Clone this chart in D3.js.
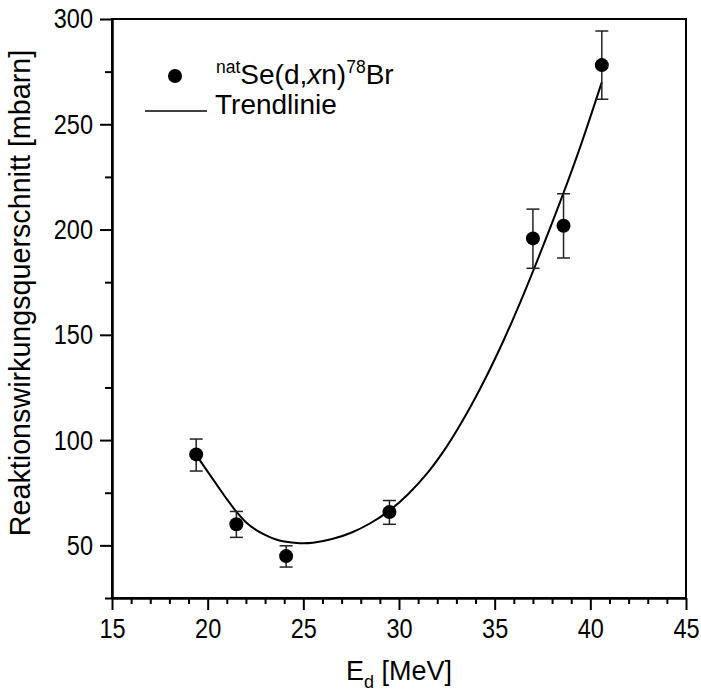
<!DOCTYPE html>
<html><head><meta charset="utf-8">
<script src="https://cdn.jsdelivr.net/npm/d3@7"></script>
<style>body{margin:0;background:#fff}svg{display:block}</style>
</head><body>
<svg id="c" width="701" height="693"></svg>
<script>
// ---- data ----
const energy       = [19.4, 21.5, 24.1, 29.5, 37.0, 38.6, 40.6];
const crossSection = [93.2, 60.0, 44.9, 65.8, 195.8, 201.8, 278.1];
const errLow       = [7.9, 6.2, 5.2, 5.8, 14.2, 15.3, 16.2];
const errHigh      = [7.3, 6.1, 4.9, 5.5, 13.9, 15.2, 16.2];
const trendX = [19.4, 20.0, 20.5, 21.0, 21.5, 22.0, 22.5, 23.0, 23.5, 24.0, 24.8, 25.5, 26.5, 27.5, 28.5, 29.5, 30.5, 31.5, 32.5, 33.5, 34.5, 35.5, 36.5, 37.5, 38.5, 39.5, 40.6];
const trendY = [93.0, 85.0, 78.5, 72.0, 66.0, 61.0, 57.5, 55.0, 53.0, 51.8, 51.0, 51.2, 53.0, 56.0, 60.5, 66.5, 74.5, 84.5, 97.0, 112.0, 129.0, 148.0, 169.0, 191.5, 215.0, 240.0, 270.0];
const xTicks = [15, 20, 25, 30, 35, 40, 45];
const xMinor = [16,17,18,19,21,22,23,24,26,27,28,29,31,32,33,34,36,37,38,39,41,42,43,44];
const yTicks = [50, 100, 150, 200, 250, 300];
const yMinor = [25, 75, 125, 175, 225, 275];
const xTitle = "E";
const xTitleSub = "d";
const xTitleRest = " [MeV]";
const yTitle = "Reaktionswirkungsquerschnitt [mbarn]";
const legendSeries = ["Se(d,", "x", "n)", "78", "Br"];
const legendTrend = "Trendlinie";

// ---- chart ----
const svg = d3.select("#c");
const font = "'Liberation Sans', Arial, sans-serif";
const L = 112, R = 686, T = 19, B = 598;
const sx = 0.84;   // horizontal condensing of tick labels
const x = d3.scaleLinear().domain([15, 45]).range([L, R]);
const y = d3.scaleLinear().domain([25, 300]).range([B, T]);

// frame
svg.append("rect").attr("x", L).attr("y", T).attr("width", R - L).attr("height", B - T)
  .attr("fill", "none").attr("stroke", "#000").attr("stroke-width", 2);

// x axis
const gx = svg.append("g").attr("transform", `translate(0,${B})`)
  .call(d3.axisBottom(x).tickValues(xTicks).tickSize(12).tickSizeOuter(0).tickPadding(8).tickFormat(d3.format("d")));
const gxm = svg.append("g").attr("transform", `translate(0,${B})`)
  .call(d3.axisBottom(x).tickValues(xMinor).tickSize(6).tickSizeOuter(0).tickFormat(""));
// y axis
const gy = svg.append("g").attr("transform", `translate(${L},0)`)
  .call(d3.axisLeft(y).tickValues(yTicks).tickSize(12).tickSizeOuter(0).tickPadding(7).tickFormat(d3.format("d")));
const gym = svg.append("g").attr("transform", `translate(${L},0)`)
  .call(d3.axisLeft(y).tickValues(yMinor).tickSize(7).tickSizeOuter(0).tickFormat(""));
[gx, gxm, gy, gym].forEach(g => {
  g.select(".domain").attr("stroke-width", 2);
  g.selectAll(".tick line").attr("stroke-width", 2);
  g.selectAll(".tick text").attr("font-family", font).attr("font-size", 28).attr("fill", "#000")
    .attr("transform", `scale(${sx},1)`);
});
gy.selectAll(".tick text").attr("x", -19 / sx);

// axis titles
svg.append("text").attr("x", 399).attr("y", 680).attr("text-anchor", "middle")
  .attr("font-family", font).attr("font-size", 27).attr("fill", "#000")
  .call(t => {
    t.append("tspan").text(xTitle);
    t.append("tspan").attr("font-size", 18).attr("dy", 8).text(xTitleSub);
    t.append("tspan").attr("dy", -8).text(xTitleRest);
  });
svg.append("text").attr("transform", `translate(30,293) rotate(-90)`)
  .attr("text-anchor", "middle").attr("font-family", font).attr("font-size", 28.7).attr("fill", "#000")
  .text(yTitle);

// trend line
const line = d3.line().x((d, i) => x(trendX[i])).y((d, i) => y(trendY[i])).curve(d3.curveCatmullRom.alpha(0.5));
svg.append("path").datum(trendX).attr("d", line).attr("fill", "none").attr("stroke", "#000").attr("stroke-width", 2);

// error bars
const pts = energy.map((e, i) => ({e, v: crossSection[i], lo: crossSection[i] - errLow[i], hi: crossSection[i] + errHigh[i]}));
const eb = svg.append("g").attr("stroke", "#222").attr("stroke-width", 1.5);
eb.selectAll("line.v").data(pts).join("line").attr("class", "v")
  .attr("x1", d => x(d.e)).attr("x2", d => x(d.e)).attr("y1", d => y(d.lo)).attr("y2", d => y(d.hi));
eb.selectAll("line.t").data(pts).join("line").attr("class", "t")
  .attr("x1", d => x(d.e) - 6.5).attr("x2", d => x(d.e) + 6.5).attr("y1", d => y(d.hi)).attr("y2", d => y(d.hi));
eb.selectAll("line.b").data(pts).join("line").attr("class", "b")
  .attr("x1", d => x(d.e) - 6.5).attr("x2", d => x(d.e) + 6.5).attr("y1", d => y(d.lo)).attr("y2", d => y(d.lo));

// points
svg.append("g").selectAll("circle").data(pts).join("circle")
  .attr("cx", d => x(d.e)).attr("cy", d => y(d.v)).attr("r", 7).attr("fill", "#000");

// legend
svg.append("circle").attr("cx", 175).attr("cy", 76).attr("r", 7).attr("fill", "#000");
svg.append("text").attr("x", 216).attr("y", 84).attr("font-family", font).attr("font-size", 28).attr("fill", "#000")
  .call(t => {
    t.append("tspan").attr("font-size", 17.5).attr("dy", -11.5).text("nat");
    t.append("tspan").attr("dy", 11.5).text(legendSeries[0]);
    t.append("tspan").attr("font-style", "italic").text(legendSeries[1]);
    t.append("tspan").text(legendSeries[2]);
    t.append("tspan").attr("font-size", 17.5).attr("dy", -11.5).text(legendSeries[3]);
    t.append("tspan").attr("dy", 11.5).text(legendSeries[4]);
  });
svg.append("line").attr("x1", 145).attr("x2", 207).attr("y1", 111).attr("y2", 111)
  .attr("stroke", "#000").attr("stroke-width", 1.5);
svg.append("text").attr("x", 215).attr("y", 114).attr("font-family", font).attr("font-size", 28).attr("fill", "#000")
  .text(legendTrend);
</script>
</body></html>
